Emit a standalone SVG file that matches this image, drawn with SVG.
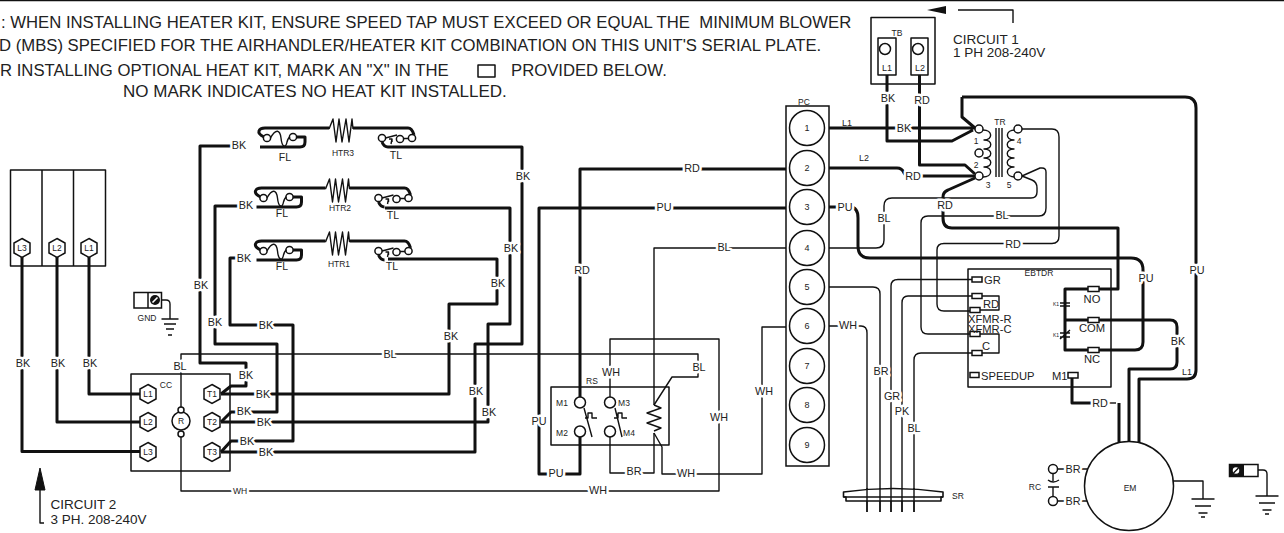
<svg xmlns="http://www.w3.org/2000/svg" width="1284" height="533" viewBox="0 0 1284 533">
<style>
text{font-family:"Liberation Sans",Arial,sans-serif;fill:#222}
.note{font-size:16.7px;white-space:pre}
.c{font-size:13.5px}
.s{font-size:8.5px;text-anchor:middle}
.t{font-size:9px;text-anchor:middle}
.l{font-size:10.5px;text-anchor:middle}
.w{font-size:10.8px;text-anchor:middle;paint-order:stroke;stroke:#fff;stroke-width:5px;stroke-linejoin:round}
.p{font-size:11.2px}
.pm{font-size:11.2px;text-anchor:middle}
.box,.th,.tk,.sh{fill:none;stroke:#111;stroke-linejoin:round}
.box{stroke-width:1.5}
.th{stroke-width:1.4}
.tk{stroke-width:3}
.sh{stroke-width:1.6;fill:#fff}
.g{fill:none;stroke:#111;stroke-width:1.5}
.b{fill:#fff;stroke:#111;stroke-width:1.5}
</style>
<defs>
<polygon id="hex" points="0,-9.5 8,-5 8,5 0,9.5 -8,5 -8,-5" fill="#fff" stroke="#111" stroke-width="1.5"/>
<path id="gnd" class="g" d="M-11.5 0H11.5M-8 7H8M-4.5 14H4.5M-2 18H2" stroke-width="1.6"/>
<path id="gnd-small" class="g" d="M-8.5 0H8.5M-6 5H6M-4 10H4M-2 16H2" stroke-width="1.6"/>
<g id="heater">
<path class="tk" d="M264 137Q258 134 259 131Q260 128 265 128H329M353 128H408Q412 128 414 135M260 147H300Q305 147 305 142V137H296M382 142Q384 147 388 147"/>
<circle class="b" cx="267" cy="138" r="3.6"/><circle class="b" cx="293" cy="137" r="3.6"/>
<path class="th" d="M270.500 138C276 128 280 130 281 138C282 148 286 148 287 142Q288 138 290 137"/>
<path class="th" d="M329 129L333 119L336 142L339 119L342 142L346 119L349 142L352 119L353 129"/>
<circle class="b" cx="382" cy="138" r="3.6"/><circle class="b" cx="400" cy="139" r="3.6"/><circle class="b" cx="412" cy="138" r="3.6"/>
<path class="th" d="M385.500 138L397 135M389 139H392L391 144M392 139V142M403.500 138.500H408.500"/>
</g>
<g id="screw"><circle r="4" fill="#fff" stroke="#111" stroke-width="1.5"/><path d="M-2.500 2.500L2.500 -2.500" stroke="#111" stroke-width="1.5"/></g>
<g id="screw-dark"><circle r="5" fill="#111"/><path d="M-2.500 2.500L2.500 -2.500" stroke="#fff" stroke-width="1.6"/></g>
</defs>
<path d="M0 .5H1284" stroke="#111" stroke-width="1.6"/>
<g id="note">
<text class="note" x="1" y="27.500">: WHEN INSTALLING HEATER KIT, ENSURE SPEED TAP MUST EXCEED OR EQUAL THE  MINIMUM BLOWER</text>
<text class="note" x="-1" y="51">D (MBS) SPECIFIED FOR THE AIRHANDLER/HEATER KIT COMBINATION ON THIS UNIT'S SERIAL PLATE.</text>
<text class="note" x="0" y="76">R INSTALLING OPTIONAL HEAT KIT, MARK AN "X" IN THE</text>
<rect x="478" y="65" width="17" height="12" class="box"/>
<text class="note" x="511" y="76">PROVIDED BELOW.</text>
<text class="note" x="123" y="97" style="font-size:17px">NO MARK INDICATES NO HEAT KIT INSTALLED.</text>
</g>
<g id="connectors">
<path class="tk" d="M22 255V451.500H140M57 255V422H140M89 255V394H140"/>
<path class="tk" d="M221 394L231 386H246V363H200V146H240"/>
<path class="tk" d="M221 422L231 412H277V344H215V206H245"/>
<path class="tk" d="M221 452L231 441H293V325H230V258H243"/>
<path class="tk" d="M221 394H449V304H497V259H388"/>
<path class="tk" d="M221 422H488V324H510V208H385"/>
<path class="tk" d="M221 452H475V344H522V147H388"/>
<path class="th" d="M181 407V354H698V377H672L654 405"/>
<path class="th" d="M181 437V491H719V339H610V397"/>
<path class="th" d="M786 248H654V405"/>
<path class="tk" d="M786 169H580V397"/>
<path class="tk" d="M786 208H539V474H580V437"/>
<path class="th" d="M654 433V473H610V437"/>
<path class="th" d="M654 433L662 447V474H762V327H786"/>
<path class="tk" d="M824 128H975M887 75V141H952L973 130"/>
<path class="tk" d="M919.500 75V165H965L975 174"/>
<path class="tk" d="M824 168H897Q902 168 904 173L906 176H975"/>
<path class="tk" d="M962 97H1185Q1196 97 1196 108V370Q1196 379 1187 379H1139V443M962 97V117L975 128"/>
<path class="tk" d="M975 178L948 190Q943 192 943 197V218Q943 228 952 228H1118V289H1065V350H1135Q1143 350 1143 342V270Q1143 258 1131 258H870Q858 258 858 246V218Q858 207 850 207H825"/>
<path class="tk" d="M1065 320H1170Q1177 320 1177 327V362Q1177 369 1170 369H1129V442"/>
<path class="th" d="M1022 129H1052Q1059 129 1059 137V236Q1059 243.500 1052 243.500H944Q937 243.500 937 250V304Q937 311 944 311H972"/>
<path class="th" d="M1022 176L1040 168H1042Q1046 168 1046 172V208Q1046 216 1039 216H928Q921 216 921 223V327Q921 334 928 334H972"/>
<path class="th" d="M1022 176L1032 180Q1037 182 1037 188V192Q1037 198 1031 198H892Q884 198 884 206V240Q884 248 876 248H826"/>
<path class="th" d="M824 287H873Q880 287 880 294V512"/>
<path class="th" d="M826 326H861Q867 326 867 333V512"/>
<path class="th" d="M972 279.500H898Q891 279.500 891 286V512"/>
<path class="th" d="M972 296H908Q902 296 902 303V512"/>
<path class="th" d="M972 353H921Q914 353 914 360V512"/>
<path class="tk" d="M1072 378V403H1108"/>
<path class="th" d="M1108 403H1116"/>
<path class="tk" d="M1119 403V442"/>
<path class="th" d="M1173 481H1203V499"/>
<path class="th" d="M1058 469H1088M1058 501H1088"/>
<path class="th" d="M1258 470H1263Q1267 470 1267 474V496"/>
<path class="th" d="M161 300H166Q170 300 170 304V319"/>
</g>
<g id="wire-labels">
<text class="w" x="23" y="367">BK</text><text class="w" x="58" y="367">BK</text><text class="w" x="90" y="367">BK</text>
<text class="w" x="239" y="149">BK</text><text class="w" x="246" y="209">BK</text><text class="w" x="244" y="262">BK</text>
<text class="w" x="201" y="289">BK</text><text class="w" x="215" y="326">BK</text><text class="w" x="266" y="329">BK</text>
<text class="w" x="246" y="379">BK</text><text class="w" x="263" y="398">BK</text><text class="w" x="264" y="426">BK</text><text class="w" x="266" y="456">BK</text>
<text class="w" x="244" y="415">BK</text><text class="w" x="247" y="445">BK</text>
<text class="w" x="451" y="340">BK</text><text class="w" x="498" y="287">BK</text><text class="w" x="511" y="252">BK</text><text class="w" x="523" y="180">BK</text>
<text class="w" x="489" y="416">BK</text><text class="w" x="476" y="395">BK</text>
<text class="w" x="180" y="370">BL</text><text class="w" x="390" y="358">BL</text><text class="w" x="699" y="371">BL</text><text class="w" x="724" y="251">BL</text>
<text class="w" x="240" y="494" style="font-size:8.500px">WH</text><text class="w" x="598" y="494">WH</text><text class="w" x="719" y="421">WH</text><text class="w" x="611" y="376">WH</text><text class="w" x="764" y="395">WH</text><text class="w" x="686" y="477">WH</text>
<text class="w" x="692" y="172">RD</text><text class="w" x="582" y="274">RD</text><text class="w" x="664" y="211">PU</text><text class="w" x="539" y="425">PU</text><text class="w" x="556" y="477">PU</text><text class="w" x="634" y="475">BR</text>
<text class="w" x="904" y="132">BK</text><text class="w" x="888" y="102">BK</text><text class="w" x="922" y="104">RD</text><text class="w" x="913" y="180">RD</text><text class="w" x="845" y="211">PU</text>
<text class="w" x="884" y="222">BL</text><text class="w" x="945" y="209">RD</text><text class="w" x="1002" y="219">BL</text><text class="w" x="1013" y="248">RD</text>
<text class="w" x="848" y="329">WH</text><text class="w" x="881" y="375">BR</text><text class="w" x="892" y="400">GR</text><text class="w" x="902" y="415">PK</text><text class="w" x="914" y="432">BL</text>
<text class="w" x="1146" y="282">PU</text><text class="w" x="1197" y="274">PU</text><text class="w" x="1178" y="345">BK</text><text class="w" x="1100" y="407">RD</text>
<text class="w" x="1073" y="473">BR</text><text class="w" x="1073" y="505">BR</text>
<text class="t" x="847" y="126">L1</text><text class="t" x="864" y="161">L2</text><text class="t" x="1187" y="375">L1</text>
</g>
<g id="panel">
<rect x="10.500" y="170" width="95" height="96" class="box"/><path class="box" d="M42 170V266M73.500 170V266"/>
<use href="#hex" x="22" y="248"/><use href="#hex" x="57" y="248"/><use href="#hex" x="89" y="248"/>
<text class="s" x="22" y="251">L3</text><text class="s" x="57" y="251">L2</text><text class="s" x="89" y="251">L1</text>
</g>
<g id="gnd-left">
<rect x="134" y="292.500" width="27.500" height="15.500" class="b"/><path class="box" d="M148 292.500V308"/>
<use href="#screw-dark" x="155" y="300"/>
<use href="#gnd-small" x="170" y="319"/>
<text class="s" x="147" y="321">GND</text>
</g>
<g id="cc">
<rect x="131" y="374" width="99" height="97" class="box"/>
<use href="#hex" x="148" y="394"/><use href="#hex" x="148" y="422"/><use href="#hex" x="148" y="452"/>
<use href="#hex" x="212" y="394"/><use href="#hex" x="212" y="422"/><use href="#hex" x="212" y="452"/>
<text class="s" x="148" y="397">L1</text><text class="s" x="148" y="425">L2</text><text class="s" x="148" y="455">L3</text>
<text class="s" x="212" y="397">T1</text><text class="s" x="212" y="425">T2</text><text class="s" x="212" y="455">T3</text>
<circle class="b" cx="181" cy="421" r="9"/><circle class="b" cx="181" cy="410" r="3"/><circle class="b" cx="181" cy="434" r="3"/>
<text class="s" x="181" y="424">R</text><text class="s" x="166" y="388">CC</text>
</g>
<g id="circuit2">
<path d="M40 468L45 490H35Z" fill="#111" stroke="#111"/><path class="th" d="M40 490V523H44"/>
<text class="c" x="50.500" y="509">CIRCUIT 2</text><text class="c" x="50.500" y="524">3 PH. 208-240V</text>
</g>
<g id="htr3"><use href="#heater"/><text class="l" x="285" y="161">FL</text><text class="s" x="343" y="156">HTR3</text><text class="l" x="396" y="159">TL</text></g>
<g id="htr2"><use href="#heater" x="-3.500" y="60"/><text class="l" x="282" y="217">FL</text><text class="s" x="340" y="211">HTR2</text><text class="l" x="393" y="219">TL</text></g>
<g id="htr1"><use href="#heater" x="-3.500" y="113"/><text class="l" x="282" y="270">FL</text><text class="s" x="339" y="267">HTR1</text><text class="l" x="392" y="270">TL</text></g>
<g id="rs">
<rect x="551" y="387" width="118" height="58" class="box"/>
<circle class="b" cx="580" cy="402.500" r="5.500"/><circle class="b" cx="610" cy="402.500" r="5.500"/><circle class="b" cx="580" cy="431.500" r="5.500"/><circle class="b" cx="610" cy="431.500" r="5.500"/>
<path class="th" d="M584 408L592 437M615 408L622 437M585 418H588V413H592V418H597M614 418H618V413H622V418H627"/>
<path class="th" d="M654 405L661 408L647 413L661 418L647 423L661 428L654 431"/>
<text class="s" x="592" y="384">RS</text><text class="s" x="562" y="406">M1</text><text class="s" x="562" y="436">M2</text><text class="s" x="624" y="406">M3</text><text class="s" x="629" y="436">M4</text>
</g>
<g id="pc">
<rect x="786" y="106" width="43" height="360" class="b"/>
<g class="b">
<circle cx="807" cy="128" r="17.500"/><circle cx="807" cy="168" r="17.500"/><circle cx="807" cy="207" r="17.500"/><circle cx="807" cy="248" r="17.500"/><circle cx="807" cy="287" r="17.500"/><circle cx="807" cy="326" r="17.500"/><circle cx="807" cy="366" r="17.500"/><circle cx="807" cy="405" r="17.500"/><circle cx="807" cy="445" r="17.500"/>
</g>
<text class="t" x="807" y="131">1</text><text class="t" x="807" y="171">2</text><text class="t" x="807" y="210">3</text><text class="t" x="807" y="251">4</text><text class="t" x="807" y="290">5</text><text class="t" x="807" y="329">6</text><text class="t" x="807" y="369">7</text><text class="t" x="807" y="408">8</text><text class="t" x="807" y="448">9</text>
<text class="s" x="804" y="105">PC</text>
</g>
<g id="tb">
<rect x="871" y="17.500" width="64" height="66.500" class="box"/>
<rect x="878" y="38" width="18" height="37" class="box"/><rect x="911" y="38" width="17" height="37" class="box"/>
<circle class="g" cx="885" cy="49" r="5.500"/><circle class="g" cx="918" cy="49" r="5.500"/>
<text class="t" x="887" y="71">L1</text><text class="t" x="920" y="71">L2</text><text class="s" x="897" y="36">TB</text>
</g>
<g id="circuit1">
<path d="M927 10L946 6V14Z" fill="#111"/><path class="th" d="M958 10H1013V23"/>
<text class="c" x="953" y="44">CIRCUIT 1</text><text class="c" x="953" y="57">1 PH 208-240V</text>
</g>
<g id="tr">
<path class="th" d="M983 130C993 130 993 140 984 140C993 140 993 149 984 149C993 149 993 158 984 158C993 158 993 167 984 167C993 167 993 177 983 177"/>
<path class="th" d="M1015 130C1005 130 1005 140 1014 140C1005 140 1005 149 1014 149C1005 149 1005 158 1014 158C1005 158 1005 167 1014 167C1005 167 1005 177 1015 177"/>
<path class="th" d="M996 128V177M999 128V177M1002 128V177"/>
<circle class="b" cx="979" cy="129" r="4"/><circle class="b" cx="979" cy="153" r="4"/><circle class="b" cx="979" cy="176" r="4"/><circle class="b" cx="1018" cy="129" r="4"/><circle class="b" cx="1018" cy="176" r="4"/>
<text class="s" x="1000" y="125">TR</text><text class="s" x="976" y="144">1</text><text class="s" x="976" y="168">2</text><text class="s" x="988" y="188">3</text><text class="s" x="1019" y="144">4</text><text class="s" x="1009" y="188">5</text>
</g>
<g id="ebtdr">
<rect x="968" y="269" width="143" height="118" class="box"/>
<path class="th" d="M982 296H999V310H980M980 334H999V353H982"/>
<g class="b">
<rect x="972" y="277" width="10" height="5"/><rect x="972" y="293.500" width="10" height="5"/><rect x="970" y="307.500" width="10" height="5"/><rect x="970" y="331.500" width="10" height="5"/><rect x="972" y="350.500" width="10" height="5"/><rect x="970" y="372.500" width="9" height="5"/>
<rect x="1088" y="286.500" width="11" height="5"/><rect x="1088" y="317.500" width="11" height="5"/><rect x="1088" y="347.500" width="11" height="5"/>
<rect x="1068" y="372.500" width="10" height="5.500"/>
</g>
<path class="th" d="M1060 303H1070M1060 306H1070M1060 333H1070M1060 337H1070M1060 339L1070 330"/>
<text class="p" x="984" y="284">GR</text><text class="pm" x="991" y="308">RD</text><text class="p" x="968" y="322.500">XFMR-R</text><text class="p" x="968" y="332.500">XFMR-C</text><text class="pm" x="986" y="350">C</text><text class="p" x="981" y="380">SPEEDUP</text>
<text class="pm" x="1092" y="303">NO</text><text class="pm" x="1092" y="332">COM</text><text class="pm" x="1092" y="363">NC</text><text class="p" x="1052" y="380">M1</text>
<text class="s" x="1039" y="276">EBTDR</text><text class="s" x="1056" y="306" style="font-size:5px">K1</text><text class="s" x="1056" y="337" style="font-size:5px">K1</text>
</g>
<g id="em">
<circle class="b" cx="1129" cy="486" r="44.500"/><text class="s" x="1130" y="491">EM</text>
<use href="#gnd" x="1203" y="499"/>
</g>
<g id="rc">
<circle class="b" cx="1053" cy="469" r="4.500"/><circle class="b" cx="1053" cy="501" r="4.500"/>
<path class="th" d="M1053 473.500V481M1053 487V496.500M1048 480Q1053 484 1059 480M1048 487H1059"/>
<text class="s" x="1035" y="490">RC</text>
</g>
<g id="gnd-right">
<rect x="1229.500" y="464.500" width="28.500" height="12" class="b"/>
<rect x="1229.500" y="464.500" width="14.500" height="12" fill="#111"/><path class="box" d="M1239 464.500V476.500"/>
<use href="#screw" x="1236" y="470.500"/>
<use href="#gnd" x="1267" y="496"/>
</g>
<g id="sr">
<path class="sh" d="M843.500 492Q893 485 943 492V497H941V501H846V497H843.500Z"/>
<path class="th" d="M843.500 497H943M867 488V512M880 488V512M891 488V512M902 488V512M914 488V512"/>
<text class="s" x="958" y="499">SR</text>
</g>
</svg>
